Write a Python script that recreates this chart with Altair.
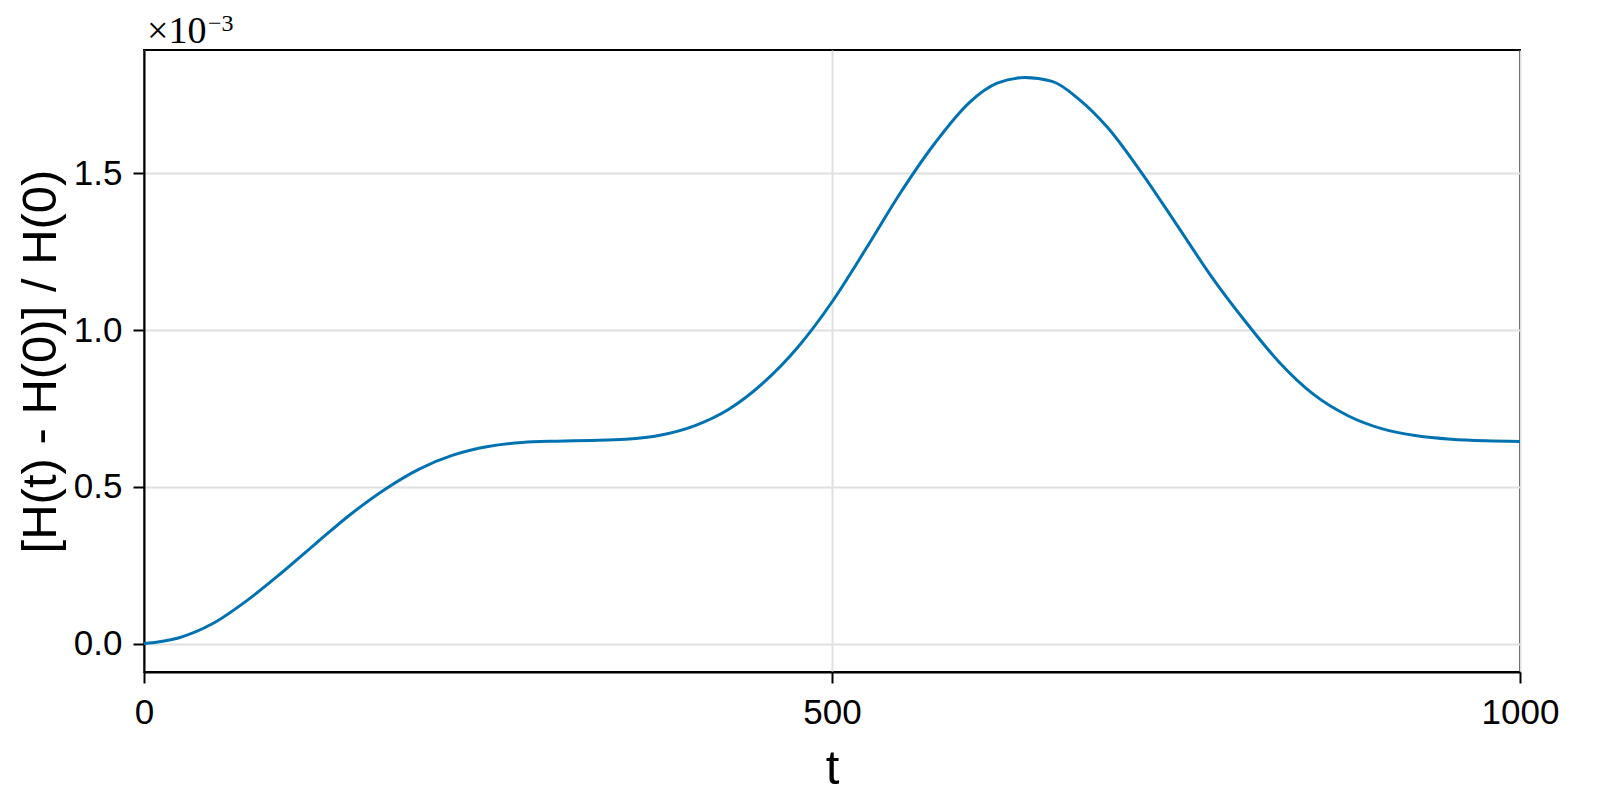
import altair as alt
import pandas as pd

# time samples and relative energy error (in units of 1e-3)
t_vals = [0, 25, 50, 75, 100, 125, 150, 175, 200, 225, 250, 275, 300, 325, 350,
          375, 400, 425, 450, 475, 500, 525, 550, 575, 600, 620, 640, 660, 680,
          700, 725, 750, 775, 800, 825, 850, 875, 900, 925, 950, 975, 1000]
dh_vals = [0.000, 0.018, 0.064, 0.138, 0.226, 0.320, 0.412, 0.492, 0.557, 0.602,
           0.629, 0.642, 0.646, 0.648, 0.652, 0.665, 0.695, 0.748, 0.832, 0.945,
           1.090, 1.262, 1.440, 1.598, 1.727, 1.788, 1.806, 1.794, 1.735, 1.648,
           1.502, 1.340, 1.176, 1.030, 0.898, 0.795, 0.727, 0.685, 0.663, 0.652,
           0.647, 0.645]

x_ticks = [0, 500, 1000]
y_ticks = [0.0, 0.5, 1.0, 1.5]
x_title = "t"
y_title = "[H(t) - H(0)] / H(0)"
exp_base = "×10"
exp_sup = "−3"

df = pd.DataFrame({"t": t_vals, "dH": dh_vals})

W, H = 1376, 622

line = alt.Chart(df).mark_line(
    color="#0072B2", strokeWidth=3, interpolate="monotone"
).encode(
    x=alt.X("t:Q",
            scale=alt.Scale(domain=[0, 1000], nice=False, zero=False),
            axis=alt.Axis(values=x_ticks, title=x_title, format="d",
                          labelPadding=12, titlePadding=14, labelFlush=False)),
    y=alt.Y("dH:Q",
            scale=alt.Scale(domain=[-0.0906, 1.894], nice=False, zero=False),
            axis=alt.Axis(values=y_ticks, title=y_title, format=".1f",
                          labelPadding=11, titlePadding=8, labelFlush=False)),
)

exp_df = pd.DataFrame({"base": [exp_base], "sup": [exp_sup]})
base_text = alt.Chart(exp_df).mark_text(
    align="left", baseline="alphabetic", font="Liberation Serif",
    fontSize=38, color="black"
).encode(x=alt.value(3), y=alt.value(-7), text="base:N")
sup_text = alt.Chart(exp_df).mark_text(
    align="left", baseline="alphabetic", font="Liberation Serif",
    fontSize=24, color="black"
).encode(x=alt.value(64), y=alt.value(-19), text="sup:N")

chart = alt.layer(line, base_text, sup_text).properties(
    width=W, height=H,
    autosize=alt.AutoSizeParams(type="none"),
    padding={"left": 136, "top": 42, "right": 1584 - 136 - W, "bottom": 784 - 42 - H},
).configure_view(
    stroke="black", strokeWidth=2
).configure_axis(
    labelFont="Liberation Sans", titleFont="Liberation Sans",
    labelFontSize=35, titleFontSize=49, titleFontWeight="normal",
    labelColor="black", titleColor="black",
    tickSize=11, tickWidth=2, tickColor="black",
    domainColor="black", domainWidth=2,
    gridColor="#e0e0e0", gridWidth=2,
)

chart.save("out.html", embed_options={"renderer": "svg", "actions": False})
